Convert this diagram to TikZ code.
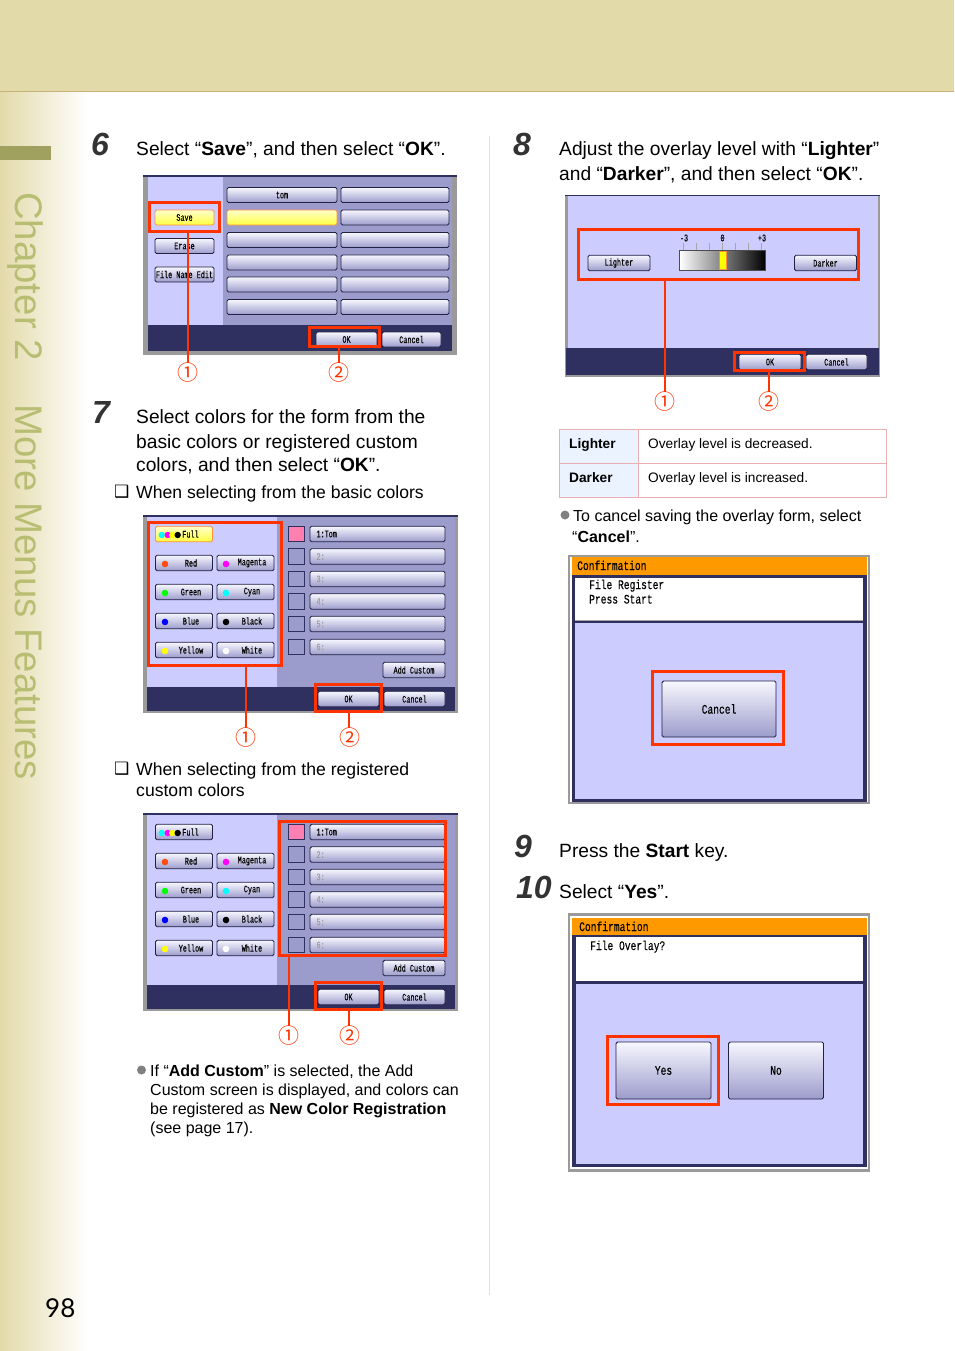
\documentclass[tikz,border=0pt]{standalone}
\usepackage{fontspec}
\setmainfont{Liberation Sans}
\newfontfamily\symfont{DejaVu Sans}
\newfontfamily\callfont{Noto Sans CJK JP}
\newfontfamily\pagefont{Lato}
\newfontfamily\screenfont[FakeStretch=0.68,FakeBold=0.3]{Liberation Mono}
\newfontfamily\screenwide[FakeStretch=0.74,FakeBold=0.2]{Liberation Mono}
\newcommand{\screensmall}{\fontsize{10}{10}\screenfont}
\newcommand{\screenbig}{\fontsize{13}{14}\screenwide}
\definecolor{band}{HTML}{E3DAAA}
\definecolor{bandline}{HTML}{C9B27A}
\definecolor{tabcol}{HTML}{A0A05F}
\definecolor{chapcol}{HTML}{B7BE72}
\definecolor{rule}{HTML}{E8E0C0}
\definecolor{hired}{HTML}{FF3300}
\definecolor{pale}{HTML}{CCCCFF}
\definecolor{mauve}{HTML}{9C9CCC}
\definecolor{navy}{HTML}{2F2F60}
\definecolor{framegray}{HTML}{9A9A9A}
\definecolor{cellpink}{HTML}{E8B0B0}
\definecolor{cellblue}{HTML}{EAF3FF}
\definecolor{titlebar}{HTML}{FF9900}
\definecolor{swpink}{HTML}{FF80B0}
\definecolor{dotred}{HTML}{FF4A10}
\definecolor{dotgreen}{HTML}{00FF00}
\definecolor{dotblue}{HTML}{0000FF}
\definecolor{dotcyan}{HTML}{00FFFF}
\definecolor{dotmagenta}{HTML}{FF00FF}
\definecolor{dotyellow}{HTML}{FFFF00}
\definecolor{dotblack}{HTML}{000000}
\definecolor{dotwhite}{HTML}{FFFFFF}
\definecolor{hitop}{HTML}{FFFFCC}
\definecolor{hibot}{HTML}{FFFF40}
\definecolor{hiedge}{HTML}{FF9040}
\tikzset{
  btn/.style={draw=navy!70!black,line width=0.9pt,rounded corners=1.6pt,top color=white!85!pale,
    bottom color=mauve,inner sep=0pt,font=\screensmall},
  hibtn/.style={btn,draw=hiedge,top color=hitop,bottom color=hibot},
  listbtn/.style={btn,minimum width=135pt,minimum height=15.5pt,text width=122pt,inner xsep=6.5pt,align=left},
  colbtn/.style={btn,minimum width=57pt,minimum height=15.5pt},
  bigbtn/.style={btn,font=\screenbig},
  scrtext/.style={inner sep=0pt,font=\screensmall},
  bigtext/.style={anchor=base west,inner sep=0pt,font=\screenbig},
  swatch/.style={draw=navy,line width=0.7pt,fill=mauve,minimum size=15.5pt,inner sep=0pt},
  redbox/.style={draw=hired,line width=3pt,inner sep=0pt,outer sep=0pt},
  redline/.style={draw=hired,line width=2pt},
  callnum/.style={inner sep=0pt,text=hired,font=\callfont\fontsize{21}{21}\selectfont},
  body/.style={anchor=base west,inner sep=0pt,font=\fontsize{19.2}{23}\selectfont},
  subhead/.style={anchor=base west,inner sep=0pt,font=\fontsize{17.6}{21}\selectfont},
  small/.style={anchor=base west,inner sep=0pt,font=\fontsize{16}{19}\selectfont},
  stepnum/.style={anchor=base west,inner sep=0pt,text=black!80,font=\fontsize{32}{32}\selectfont\bfseries\itshape},
  cell/.style={draw=cellpink,line width=0.8pt,inner sep=0pt,minimum height=34pt,outer sep=0pt},
  celltext/.style={anchor=base west,inner sep=0pt,font=\fontsize{13.7}{16}\selectfont},
  chk/.style={anchor=base west,inner sep=0pt,font=\symfont\fontsize{17}{17}\selectfont},
}
% the colour picking screen, used twice
\newcommand{\colorpanel}[2]{
  \fill[framegray] (143,515) rectangle (458,713);
  \fill[navy] (143,515) rectangle (458,517);
  \fill[pale] (147,517) rectangle (277,687);
  \fill[mauve] (277,517) rectangle (455,687);
  \fill[navy] (147,687) rectangle (455,711);
  \node[#1,minimum width=57pt,minimum height=15.5pt] (full) at (184,534) {};
  \foreach \dx/\dc in {161.7/dotcyan,167.7/dotmagenta,172.3/dotyellow,177.7/dotblack}
    \fill[\dc] (\dx,535) circle (3.2);
  \node[scrtext] (fulltxt) at (190.5,534) {Full};
  \foreach \y/\ta/\ca/\tb/\cb [count=\i] in {563/Red/dotred/Magenta/dotmagenta,592/Green/dotgreen/Cyan/dotcyan,
      621/Blue/dotblue/Black/dotblack,650/Yellow/dotyellow/White/dotwhite} {
    \node[colbtn] (cola\i) at (184,\y) {};
    \node[colbtn] (colb\i) at (245.5,\y) {};
    \fill[\ca] (165,\y+1) circle (3.3);
    \fill[\cb] (226,\y+1) circle (3.3);
    \node[scrtext] (txta\i) at (191,\y) {\ta};
    \node[scrtext] (txtb\i) at (252,\y) {\tb};
  }
  % custom colours
  \node[swatch,fill=swpink] (sw1) at (296.5,534) {};
  \node[#2,listbtn] (list1) at (377.5,534) {1:Tom};
  \foreach \y/\t [count=\i from 2] in {556.5/2:,579/3:,601.5/4:,624/5:,647/6:} {
    \node[swatch] (sw\i) at (296.5,\y) {};
    \node[listbtn,text=gray!75] (list\i) at (377.5,\y) {\t};
  }
  \node[btn,minimum width=62pt,minimum height=15.5pt] (addc) at (414,670) {Add Custom};
  \node[btn,minimum width=61pt,minimum height=15.5pt] (ok) at (348.5,699) {OK};
  \node[btn,minimum width=61pt,minimum height=15.5pt] (cancel) at (414.5,699) {Cancel};
}
\begin{document}
\begin{tikzpicture}[x=1pt,y=-1pt]
  \useasboundingbox (0,0) rectangle (954,1351);
  % Page
  \fill[white] (0,0) rectangle (954,1351);
  \shade[left color=band,right color=white] (0,92) rectangle (88,1351);
  \fill[band] (0,0) rectangle (954,91);
  \draw[bandline,line width=1pt] (0,91.5) -- (954,91.5);
  \fill[tabcol] (0,146) rectangle (51,160);
  \draw[rule,line width=1pt] (489,136) -- (489,1295);
  \node[anchor=base west,rotate=-90,inner sep=0pt,text=chapcol,font=\fontsize{38.4}{40}\selectfont] (chapa) at (16,192) {Chapter 2};
  \node[anchor=base west,rotate=-90,inner sep=0pt,text=chapcol,font=\fontsize{38.4}{40}\selectfont] (chapb) at (16,404) {More Menus Features};
  \node[anchor=base west,inner sep=0pt,font=\pagefont\fontsize{26}{26}\selectfont] (pageno) at (45,1317) {98};

  % Step 6
  \node[stepnum] (numsix) at (91,156) {6};
  \node[body] (sixa) at (136,156) {Select “\textbf{Save}”, and then select “\textbf{OK}”.};
  \fill[framegray] (143,175) rectangle (457,355);
  \fill[navy] (143,175) rectangle (457,177);
  \fill[pale] (148,177) rectangle (223,325);
  \fill[mauve] (223,177) rectangle (452,325);
  \fill[navy] (148,325) rectangle (452,351);
  \node[hibtn,minimum width=59pt,minimum height=15pt] (save) at (184.5,217.5) {Save};
  \node[btn,minimum width=59pt,minimum height=15pt] (erase) at (184.5,246) {Erase};
  \node[btn,minimum width=59pt,minimum height=15pt] (fedit) at (184.5,274.5) {File Name Edit};
  \node[btn,minimum width=110pt,minimum height=15pt] (rowa1) at (282,195) {tom};
  \node[btn,minimum width=108pt,minimum height=15pt] (rowb1) at (395,195) {};
  \node[hibtn,minimum width=110pt,minimum height=15pt] (rowa2) at (282,217.5) {};
  \node[btn,minimum width=108pt,minimum height=15pt] (rowb2) at (395,217.5) {};
  \foreach \y [count=\i from 3] in {240,262.5,284.5,307} {
    \node[btn,minimum width=110pt,minimum height=15pt] (rowa\i) at (282,\y) {};
    \node[btn,minimum width=108pt,minimum height=15pt] (rowb\i) at (395,\y) {};
  }
  \node[btn,minimum width=61pt,minimum height=15pt] (sixok) at (346.5,339.5) {OK};
  \node[btn,minimum width=59pt,minimum height=15pt] (sixcancel) at (411.5,339.5) {Cancel};
  \node[redbox,minimum width=70pt,minimum height=29pt] (sixsel) at (184.5,217) {};
  \node[redbox,minimum width=70pt,minimum height=19pt] (sixoksel) at (344.5,337) {};
  \node[callnum] (sixone) at (188,373) {①};
  \node[callnum] (sixtwo) at (339,373) {②};
  \draw[redline] (sixone.north) -- (sixone.north |- sixsel.south);
  \draw[redline] (sixtwo.north) -- (sixtwo.north |- sixoksel.south);

  % Step 7
  \node[stepnum] (numseven) at (92,423) {7};
  \node[body] (sevena) at (136,423) {Select colors for the form from the};
  \node[body] (sevenb) at (136,448) {basic colors or registered custom};
  \node[body] (sevenc) at (136,471.5) {colors, and then select “\textbf{OK}”.};
  \node[chk] (chka) at (114,497) {❑};
  \node[subhead] (sevend) at (136,498) {When selecting from the basic colors};
  \begin{scope}[name prefix=base-]
    \colorpanel{hibtn}{btn}
    \node[redbox,minimum width=133pt,minimum height=143pt] (sel) at (215,594) {};
    \node[redbox,minimum width=66pt,minimum height=27pt] (oksel) at (348.5,698) {};
    \node[callnum] (one) at (245.5,738) {①};
    \node[callnum] (two) at (349.5,738) {②};
    \draw[redline] (one.north) -- (one.north |- sel.south);
    \draw[redline] (two.north -| oksel.south) -- (oksel.south);
  \end{scope}
  \node[chk] (chkb) at (114,774) {❑};
  \node[subhead] (sevene) at (136,775) {When selecting from the registered};
  \node[subhead] (sevenf) at (136,796) {custom colors};
  \begin{scope}[yshift=-298pt,name prefix=cust-]
    \colorpanel{btn}{hibtn}
    \node[redbox,minimum width=166pt,minimum height=134pt] (sel) at (362.5,590.5) {};
    \node[redbox,minimum width=66pt,minimum height=27pt] (oksel) at (348.5,698) {};
    \node[callnum] (one) at (289,738) {①};
    \node[callnum] (two) at (349.5,738) {②};
    \draw[redline] (one.north) -- (one.north |- sel.south);
    \draw[redline] (two.north -| oksel.south) -- (oksel.south);
  \end{scope}
  \fill[gray] (141.5,1070) circle (4.5);
  \node[small] (nota) at (150,1076) {If “\textbf{Add Custom}” is selected, the Add};
  \node[small] (notb) at (150,1095) {Custom screen is displayed, and colors can};
  \node[small] (notc) at (150,1114) {be registered as \textbf{New Color Registration}};
  \node[small] (notd) at (150,1133) {(see page 17).};

  % Step 8
  \node[stepnum] (numeight) at (513,156) {8};
  \node[body] (eighta) at (559,156) {Adjust the overlay level with “\textbf{Lighter}”};
  \node[body] (eightb) at (559,181) {and “\textbf{Darker}”, and then select “\textbf{OK}”.};
  \fill[framegray] (565,195) rectangle (880,377);
  \fill[navy] (565,195) rectangle (880,196.5);
  \fill[pale] (568,196.5) rectangle (878,348);
  \fill[navy] (566,348) rectangle (879,375);
  \node[btn,minimum width=62pt,minimum height=15.5pt] (lighter) at (619,263) {Lighter};
  \node[btn,minimum width=62pt,minimum height=15.5pt] (darker) at (825.5,263) {Darker};
  \node[draw=black!70,line width=0.8pt,left color=white,right color=black,minimum width=86pt,minimum height=20pt,inner sep=0pt] (gauge) at (722.5,260.5) {};
  \foreach \x in {683.3,696.3,...,762} \draw[gray!70,line width=0.6pt] (\x,243) -- (\x,250);
  \node[draw=hiedge,line width=0.8pt,fill=dotyellow,minimum width=7pt,minimum height=18.5pt,inner sep=0pt] (marker) at (723,260.5) {};
  \node[scrtext] (gminus) at (684,238) {-3};
  \node[scrtext] (gzero) at (722.5,238) {0};
  \node[scrtext] (gplus) at (762,238) {+3};
  \node[btn,minimum width=62pt,minimum height=15.5pt] (eightok) at (770,362) {OK};
  \node[btn,minimum width=61pt,minimum height=15.5pt] (eightcancel) at (836.5,362) {Cancel};
  \node[redbox,minimum width=280pt,minimum height=50pt] (eightsel) at (718.5,254.5) {};
  \node[redbox,minimum width=70pt,minimum height=18pt] (eightoksel) at (769.5,361.5) {};
  \node[callnum] (eightone) at (664.5,402) {①};
  \node[callnum] (eighttwo) at (769,402) {②};
  \draw[redline] (eightone.north) -- (eightone.north |- eightsel.south);
  \draw[redline] (eighttwo.north) -- (eighttwo.north |- eightoksel.south);

  % Table
  \node[cell,fill=cellblue,minimum width=79pt] (lhead) at (598.5,446) {};
  \node[cell,minimum width=248.5pt] (ltext) at (762.2,446) {};
  \node[cell,fill=cellblue,minimum width=79pt] (dhead) at (598.5,480) {};
  \node[cell,minimum width=248.5pt] (dtext) at (762.2,480) {};
  \node[celltext] (lname) at (569,448) {\textbf{Lighter}};
  \node[celltext] (ldesc) at (648,448) {Overlay level is decreased.};
  \node[celltext] (dname) at (569,482) {\textbf{Darker}};
  \node[celltext] (ddesc) at (648,482) {Overlay level is increased.};
  \fill[gray] (565,515) circle (4.5);
  \node[small] (cana) at (573,521) {To cancel saving the overlay form, select};
  \node[small] (canb) at (572,542) {“\textbf{Cancel}”.};

  % Confirmation, cancel
  \fill[framegray] (568,555) rectangle (870,804);
  \fill[white] (570,557) rectangle (868,802);
  \fill[navy] (572,575) rectangle (867,802);
  \fill[titlebar] (572,557) rectangle (867,575);
  \fill[white] (575,578) rectangle (863,620);
  \fill[gray!70] (575,620) rectangle (863,621);
  \fill[pale] (575,623) rectangle (863,799);
  \node[bigtext] (cfa) at (577,570) {Confirmation};
  \node[bigtext] (cfb) at (589,589) {File Register};
  \node[bigtext] (cfc) at (589,603.5) {Press Start};
  \node[bigbtn,minimum width=114pt,minimum height=56pt] (bigcancel) at (719,709) {Cancel};
  \node[redbox,minimum width=131pt,minimum height=73pt] (cancelsel) at (718,708) {};

  % Steps 9 and 10
  \node[stepnum] (numnine) at (514,857) {9};
  \node[body] (ninea) at (559,857) {Press the \textbf{Start} key.};
  \node[stepnum] (numten) at (516,898) {10};
  \node[body] (tena) at (559,898) {Select “\textbf{Yes}”.};

  % Confirmation, yes or no
  \fill[framegray] (568,913) rectangle (870,1172);
  \fill[white] (570,916) rectangle (868,1169);
  \fill[navy] (572,935) rectangle (867,1167);
  \fill[titlebar] (572,918) rectangle (867,935);
  \fill[white] (576,937) rectangle (863,981);
  \fill[pale] (576,984) rectangle (863,1164);
  \node[bigtext] (ova) at (579,931) {Confirmation};
  \node[bigtext] (ovb) at (590,950) {File Overlay?};
  \node[bigbtn,minimum width=95pt,minimum height=57pt] (yes) at (663.5,1070.5) {Yes};
  \node[bigbtn,minimum width=95pt,minimum height=57pt] (no) at (776,1070.5) {No};
  \node[redbox,minimum width=111pt,minimum height=68pt] (yessel) at (663,1070.5) {};
\end{tikzpicture}
\end{document}
